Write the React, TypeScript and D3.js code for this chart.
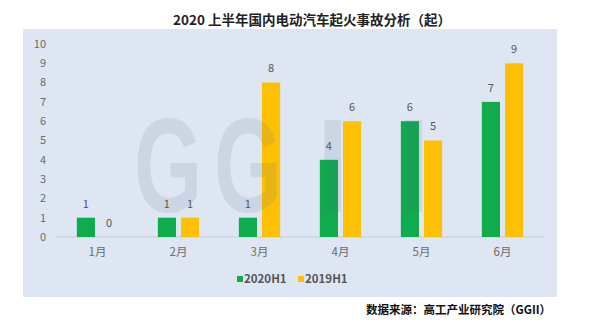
import React, { useRef, useEffect } from 'react';
import * as d3 from 'd3';

const months = ['1月', '2月', '3月', '4月', '5月', '6月'];
const series = ['2020H1', '2019H1'];
const values2020 = [1, 1, 1, 4, 6, 7];
const values2019 = [0, 1, 8, 6, 5, 9];
const yTicks = [0, 1, 2, 3, 4, 5, 6, 7, 8, 9, 10];
const colors = ['#0fab4d', '#fdc005'];

const FONT = "'Noto Sans CJK SC', 'Liberation Sans', sans-serif";

const App = () => {
  const svgRef = useRef(null);

  useEffect(() => {
    const svg = d3.select(svgRef.current);
    svg.selectAll('*').remove();

    // panel
    svg.append('rect')
      .attr('x', 23).attr('y', 29)
      .attr('width', 534).attr('height', 268)
      .attr('fill', '#dde6f2');

    svg.append('text')
      .attr('x', 312).attr('y', 20)
      .attr('dy', '0.35em')
      .attr('text-anchor', 'middle')
      .attr('font-family', FONT)
      .attr('font-size', 13.5)
      .attr('font-weight', 'bold')
      .attr('fill', '#222')
      .text('2020 上半年国内电动汽车起火事故分析（起）');

    const x = d3.scaleBand().domain(months).range([57, 543]).paddingInner(0.49).paddingOuter(0.245);
    const x1 = d3.scaleBand().domain(series).range([0, x.bandwidth()]).paddingInner(0.217);
    const y = d3.scaleLinear().domain([0, 10]).range([237, 44]);

    // y tick labels
    svg.append('g')
      .selectAll('text')
      .data(yTicks)
      .enter()
      .append('text')
      .attr('x', 46)
      .attr('y', (d) => y(d))
      .attr('dy', '0.35em')
      .attr('text-anchor', 'end')
      .attr('font-family', FONT)
      .attr('font-size', 11)
      .attr('fill', '#6b6b6b')
      .text((d) => d);

    // baseline
    svg.append('line')
      .attr('x1', 57).attr('x2', 543)
      .attr('y1', y(0)).attr('y2', y(0))
      .attr('stroke', '#c4ccd8');

    // x labels
    svg.append('g')
      .selectAll('text')
      .data(months)
      .enter()
      .append('text')
      .attr('x', (d) => x(d) + x.bandwidth() / 2)
      .attr('y', 252)
      .attr('dy', '0.35em')
      .attr('text-anchor', 'middle')
      .attr('font-family', FONT)
      .attr('font-size', 11.5)
      .attr('fill', '#6b6b6b')
      .text((d) => d);

    const rows = months.map((m, i) => ({ m, vals: [values2020[i], values2019[i]] }));

    const groups = svg.append('g')
      .selectAll('g')
      .data(rows)
      .enter()
      .append('g')
      .attr('transform', (d) => `translate(${x(d.m)},0)`);

    groups.selectAll('rect')
      .data((d) => d.vals.map((v, j) => ({ s: series[j], v, j })))
      .enter()
      .append('rect')
      .attr('x', (d) => x1(d.s))
      .attr('y', (d) => y(d.v))
      .attr('width', x1.bandwidth())
      .attr('height', (d) => y(0) - y(d.v))
      .attr('fill', (d) => colors[d.j]);

    // watermark over the bars, translucent
    const wm = svg.append('g').attr('fill', '#5a6a82').attr('opacity', 0.13);
    [['G', 134, 0.66], ['G', 214, 0.66], ['I', 317, 0.85], ['I', 398, 0.85]].forEach(([ch, px, sx]) => {
      wm.append('text')
        .attr('transform', `translate(${px},212) scale(${sx},1)`)
        .attr('font-family', "'Liberation Sans', sans-serif")
        .attr('font-weight', 'bold')
        .attr('font-size', 133)
        .text(ch);
    });

    // value labels
    const labels = svg.append('g')
      .selectAll('g')
      .data(rows)
      .enter()
      .append('g')
      .attr('transform', (d) => `translate(${x(d.m)},0)`);

    labels.selectAll('text')
      .data((d) => d.vals.map((v, j) => ({ s: series[j], v })))
      .enter()
      .append('text')
      .attr('x', (d) => x1(d.s) + x1.bandwidth() / 2)
      .attr('y', (d) => y(d.v) - 14)
      .attr('dy', '0.35em')
      .attr('text-anchor', 'middle')
      .attr('font-family', FONT)
      .attr('font-size', 11)
      .attr('fill', '#555')
      .text((d) => d.v);

    // legend
    const legend = svg.append('g');
    const legendX = [237, 298];
    series.forEach((s, i) => {
      legend.append('rect')
        .attr('x', legendX[i]).attr('y', 276)
        .attr('width', 6).attr('height', 6)
        .attr('fill', colors[i]);
      legend.append('text')
        .attr('x', legendX[i] + 7).attr('y', 279)
        .attr('dy', '0.35em')
        .attr('font-family', FONT)
        .attr('font-size', 11.5)
        .attr('font-weight', 'bold')
        .attr('fill', '#555')
        .text(s);
    });

    svg.append('text')
      .attr('x', 551).attr('y', 310)
      .attr('dy', '0.35em')
      .attr('text-anchor', 'end')
      .attr('font-family', FONT)
      .attr('font-size', 11.5)
      .attr('font-weight', 'bold')
      .attr('fill', '#111')
      .text('数据来源：高工产业研究院（GGII）');
  }, []);

  return (
    <svg ref={svgRef} width={592} height={328}
      style={{ position: 'absolute', left: 0, top: 0, background: '#fff' }}></svg>
  );
};

export default App;
